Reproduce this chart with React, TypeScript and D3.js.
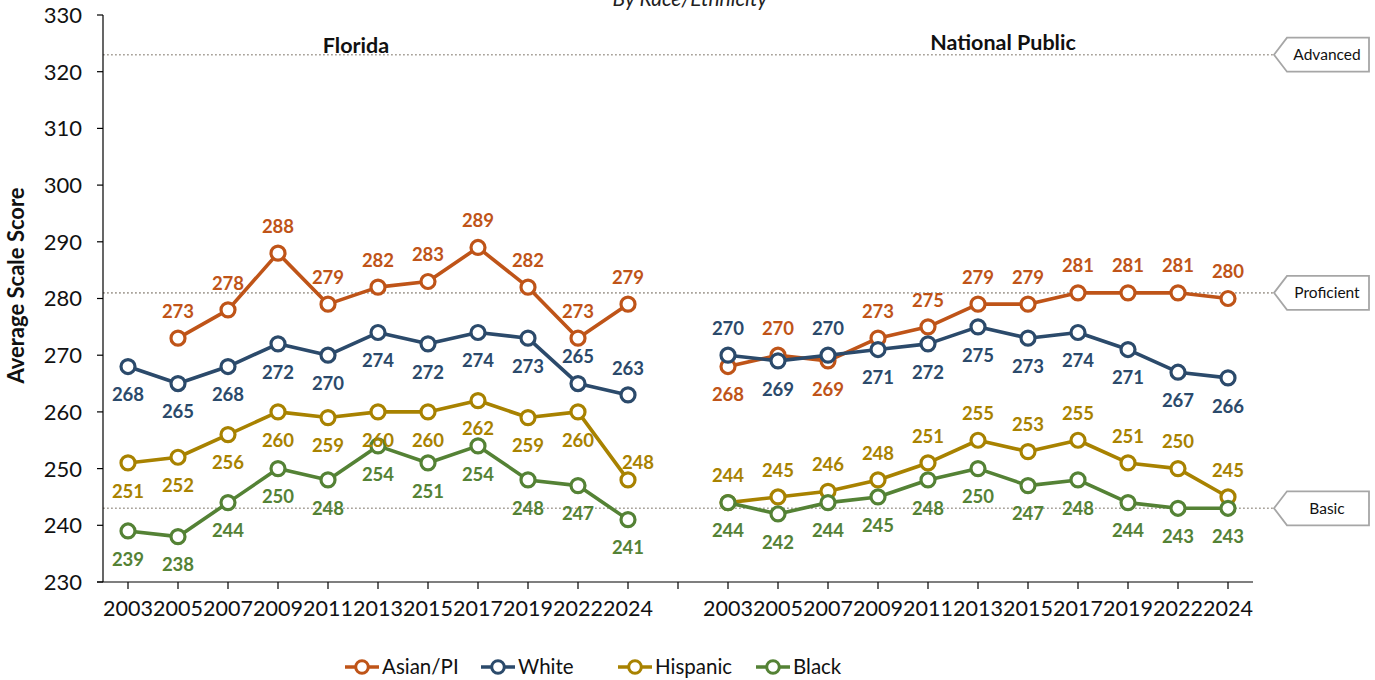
import React from "react";
import * as d3 from "d3";

const years = ["2003", "2005", "2007", "2009", "2011", "2013", "2015", "2017", "2019", "2022", "2024"];
const panelTitles = ["Florida", "National Public"];
const seriesNames = ["Asian/PI", "White", "Hispanic", "Black"];
const seriesColors = ["#BF5418", "#2B4A6B", "#A88200", "#548235"];

const flAsian = [null, 273, 278, 288, 279, 282, 283, 289, 282, 273, 279];
const flWhite = [268, 265, 268, 272, 270, 274, 272, 274, 273, 265, 263];
const flHispanic = [251, 252, 256, 260, 259, 260, 260, 262, 259, 260, 248];
const flBlack = [239, 238, 244, 250, 248, 254, 251, 254, 248, 247, 241];

const npAsian = [268, 270, 269, 273, 275, 279, 279, 281, 281, 281, 280];
const npWhite = [270, 269, 270, 271, 272, 275, 273, 274, 271, 267, 266];
const npHispanic = [244, 245, 246, 248, 251, 255, 253, 255, 251, 250, 245];
const npBlack = [244, 242, 244, 245, 248, 250, 247, 248, 244, 243, 243];

// label side per point: a = above, b = below, r = above-right (tight)
const flAsianSide = "aaaaaaaaaaa";
const flWhiteSide = "bbbbbbbbbaa";
const flHispanicSide = "bbbbbbbbbbr";
const flBlackSide = "bbbbbbbbbbb";
const npAsianSide = "babaaaaaaaa";
const npWhiteSide = "ababbbbbbbb";
const npHispanicSide = "aaaaaaaaaaa";
const npBlackSide = "bbbbbbbbbbb";

const levelNames = ["Advanced", "Proficient", "Basic"];
const levelCuts = [323, 281, 243];
const yTicks = [230, 240, 250, 260, 270, 280, 290, 300, 310, 320, 330];

const FONT = "Lato, 'Open Sans', sans-serif";

export default function App() {
  const W = 1375;
  const H = 680;
  const keys = [...years.map((y) => "FL" + y), "gap", ...years.map((y) => "NP" + y)];
  const x = d3.scaleBand<string>().domain(keys).range([103, 1253]).paddingInner(0).paddingOuter(0);
  const bw = x.bandwidth();
  const cx = (k: string) => (x(k) as number) + bw / 2;
  const y = d3.scaleLinear().domain([230, 330]).range([582, 15]);

  const panels = [
    { prefix: "FL", series: [flAsian, flWhite, flHispanic, flBlack], sides: [flAsianSide, flWhiteSide, flHispanicSide, flBlackSide] },
    { prefix: "NP", series: [npAsian, npWhite, npHispanic, npBlack], sides: [npAsianSide, npWhiteSide, npHispanicSide, npBlackSide] },
  ];

  const line = d3
    .line<{ k: string; v: number | null }>()
    .defined((d) => d.v != null)
    .x((d) => cx(d.k))
    .y((d) => y(d.v as number));

  const axisLeft = 103;
  const axisBottom = y(230);
  const tipX = 1274;

  return (
    <svg width={W} height={H} style={{ position: "absolute", left: 0, top: 0, background: "#fff" }} fontFamily={FONT}>
      <rect x={0} y={0} width={W} height={H} fill="#fff" />
      {/* subtitle (partly above the top edge, as in the source) */}
      <text x={690} y={6} textAnchor="middle" fontSize={21} fontStyle="italic" fill="#222">
        By Race/Ethnicity
      </text>

      {/* reference lines */}
      {levelCuts.map((c, i) => (
        <line key={"ref" + i} x1={axisLeft} x2={tipX} y1={y(c)} y2={y(c)} stroke="#a8a29a" strokeWidth={1.6} strokeDasharray="1.8,2.2" />
      ))}

      {/* callouts */}
      {levelCuts.map((c, i) => {
        const yy = y(c);
        const h = 17;
        const p = `M${tipX},${yy} L${tipX + 13},${yy - h} L1369,${yy - h} L1369,${yy + h} L${tipX + 13},${yy + h} Z`;
        return (
          <g key={"call" + i}>
            <path d={p} fill="#fff" stroke="#a6a6a6" strokeWidth={1.8} />
            <text x={1327} y={yy} dy="0.35em" textAnchor="middle" fontSize={15.5} fill="#111">
              {levelNames[i]}
            </text>
          </g>
        );
      })}

      {/* y axis */}
      <line x1={axisLeft} x2={axisLeft} y1={y(330)} y2={axisBottom} stroke="#000" strokeWidth={1.2} />
      {yTicks.map((t) => (
        <g key={"yt" + t}>
          <line x1={axisLeft - 6} x2={axisLeft} y1={y(t)} y2={y(t)} stroke="#000" strokeWidth={1.2} />
          <text x={82} y={y(t)} dy="0.36em" textAnchor="end" fontSize={22} fill="#111">
            {t}
          </text>
        </g>
      ))}
      <text transform={`translate(24,${(y(330) + axisBottom) / 2 - 13}) rotate(-90)`} textAnchor="middle" fontSize={22} fontWeight="bold" fill="#111">
        Average Scale Score
      </text>

      {/* x axis */}
      <line x1={axisLeft - 6} x2={1253} y1={axisBottom} y2={axisBottom} stroke="#000" strokeWidth={1.2} />
      {keys.map((k) => (
        <line key={"xt" + k} x1={cx(k)} x2={cx(k)} y1={axisBottom} y2={axisBottom + 7} stroke="#000" strokeWidth={1.2} />
      ))}
      {keys
        .filter((k) => k !== "gap")
        .map((k) => (
          <text key={"xl" + k} x={cx(k)} y={616} textAnchor="middle" fontSize={21.5} fill="#111">
            {k.slice(2)}
          </text>
        ))}

      {/* panel titles */}
      <text x={356} y={53} textAnchor="middle" fontSize={21.5} fontWeight="bold" fill="#111">
        {panelTitles[0]}
      </text>
      <text x={1003} y={50} textAnchor="middle" fontSize={21.5} fontWeight="bold" fill="#111">
        {panelTitles[1]}
      </text>

      {/* series */}
      {panels.map((pn) =>
        pn.series.map((vals, si) => {
          const pts = vals.map((v, i) => ({ k: pn.prefix + years[i], v }));
          const col = seriesColors[si];
          return (
            <g key={pn.prefix + si}>
              <path d={line(pts) || ""} fill="none" stroke={col} strokeWidth={3.6} strokeLinejoin="round" />
              {pts
                .filter((d) => d.v != null)
                .map((d) => (
                  <circle key={d.k} cx={cx(d.k)} cy={y(d.v as number)} r={7} fill="#fff" stroke={col} strokeWidth={3.2} />
                ))}
            </g>
          );
        })
      )}
      {/* labels */}
      {panels.map((pn) =>
        pn.series.map((vals, si) =>
          vals.map((v, i) => {
            if (v == null) return null;
            const side = pn.sides[si][i];
            const k = pn.prefix + years[i];
            let dx = 0;
            let dy = side === "a" ? -27 : 28;
            if (side === "r") {
              dx = 10;
              dy = -18;
            }
            return (
              <text
                key={"lab" + pn.prefix + si + i}
                x={cx(k) + dx}
                y={y(v) + dy}
                dy="0.36em"
                textAnchor="middle"
                fontSize={18.5}
                fontWeight="bold"
                fill={seriesColors[si]}
              >
                {v}
              </text>
            );
          })
        )
      )}

      {/* legend */}
      {seriesNames.map((n, i) => {
        const lx = [362, 498, 635, 773][i];
        const ly = 667;
        return (
          <g key={"lg" + i}>
            <line x1={lx - 17} x2={lx + 17} y1={ly} y2={ly} stroke={seriesColors[i]} strokeWidth={3.6} />
            <circle cx={lx} cy={ly} r={6.3} fill="#fff" stroke={seriesColors[i]} strokeWidth={3} />
            <text x={lx + 20} y={ly} dy="0.36em" fontSize={20.5} fill="#111">
              {n}
            </text>
          </g>
        );
      })}
    </svg>
  );
}
